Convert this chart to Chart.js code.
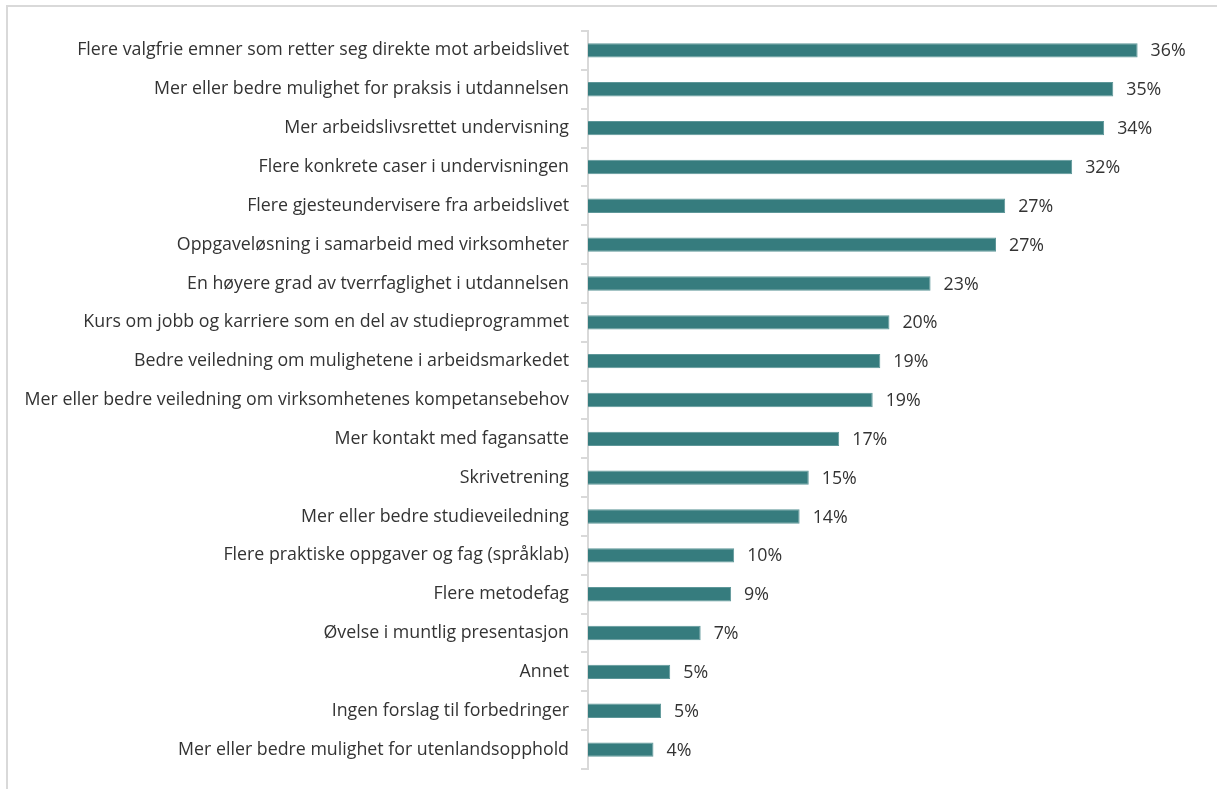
<!DOCTYPE html>
<html>
<head>
<meta charset="utf-8">
<script src="https://cdn.jsdelivr.net/npm/chart.js@4.4.1/dist/chart.umd.min.js"></script>
<style>
    html, body { margin: 0; padding: 0; background: #fff; }
    #wrap { position: relative; width: 1217px; height: 789px; overflow: hidden; }
    #frame {
        position: absolute; left: 6px; top: 5px; width: 1300px; height: 900px;
        border-left: 2px solid #d9d9d9; border-top: 2px solid #d9d9d9;
    }
    canvas { position: absolute; left: 0; top: 0; }
</style>
</head>
<body>
<div id="wrap">
    <div id="frame"></div>
    <canvas id="chart" width="1217" height="789"></canvas>
</div>
<script>
// categories, top to bottom
const categories = [
    'Flere valgfrie emner som retter seg direkte mot arbeidslivet',
    'Mer eller bedre mulighet for praksis i utdannelsen',
    'Mer arbeidslivsrettet undervisning',
    'Flere konkrete caser i undervisningen',
    'Flere gjesteundervisere fra arbeidslivet',
    'Oppgaveløsning i samarbeid med virksomheter',
    'En høyere grad av tverrfaglighet i utdannelsen',
    'Kurs om jobb og karriere som en del av studieprogrammet',
    'Bedre veiledning om mulighetene i arbeidsmarkedet',
    'Mer eller bedre veiledning om virksomhetenes kompetansebehov',
    'Mer kontakt med fagansatte',
    'Skrivetrening',
    'Mer eller bedre studieveiledning',
    'Flere praktiske oppgaver og fag (språklab)',
    'Flere metodefag',
    'Øvelse i muntlig presentasjon',
    'Annet',
    'Ingen forslag til forbedringer',
    'Mer eller bedre mulighet for utenlandsopphold'
];

// share of respondents (%)
const shares = [36.1, 34.5, 33.9, 31.8, 27.4, 26.8, 22.5, 19.8, 19.2, 18.7,
                16.5, 14.5, 13.9, 9.6, 9.4, 7.4, 5.4, 4.8, 4.3];

// labels printed next to the bars
const shareLabels = ['36%', '35%', '34%', '32%', '27%', '27%', '23%', '20%', '19%', '19%',
                     '17%', '15%', '14%', '10%', '9%', '7%', '5%', '5%', '4%'];

const fontFamily = '"Open Sans", Lato, sans-serif';
const fontSize = 17.8;
const textColor = '#333333';
const axisColor = '#d9d9d9';

// draws the percent text right of each bar
const barLabels = {
    id: 'barLabels',
    afterDatasetsDraw(chart) {
        const ctx = chart.ctx;
        const meta = chart.getDatasetMeta(0);
        ctx.save();
        ctx.font = fontSize + 'px ' + fontFamily;
        ctx.fillStyle = textColor;
        ctx.textAlign = 'left';
        ctx.textBaseline = 'middle';
        meta.data.forEach(function(bar, i) {
            ctx.fillText(shareLabels[i], bar.x + 13, bar.y + 1);
        });
        ctx.restore();
    }
};

new Chart(document.getElementById('chart'), {
    type: 'bar',
    data: {
        labels: categories,
        datasets: [{
            data: shares,
            backgroundColor: '#367c7e',
            borderColor: '#5e9799',
            borderWidth: 1,
            borderSkipped: 'start',
            barPercentage: 0.37,
            categoryPercentage: 1
        }]
    },
    options: {
        indexAxis: 'y',
        responsive: false,
        animation: false,
        layout: {
            padding: { left: 0, right: 20, top: 31, bottom: 20 }
        },
        plugins: {
            legend: { display: false },
            tooltip: { enabled: false }
        },
        scales: {
            x: {
                display: false,
                min: 0,
                max: 40
            },
            y: {
                afterFit(scale) {
                    // keep the axis line where the reference has it,
                    // and drop the extra label padding at top/bottom
                    scale.width = 588;
                    scale.paddingTop = 0;
                    scale.paddingBottom = 0;
                },
                grid: {
                    offset: true,
                    drawOnChartArea: false,
                    drawTicks: true,
                    tickLength: 7,
                    color: axisColor,
                    lineWidth: 2
                },
                border: {
                    display: true,
                    color: axisColor,
                    width: 2
                },
                ticks: {
                    color: textColor,
                    padding: 12,
                    font: { family: fontFamily, size: fontSize },
                    autoSkip: false
                }
            }
        }
    },
    plugins: [barLabels]
});
</script>
</body>
</html>
